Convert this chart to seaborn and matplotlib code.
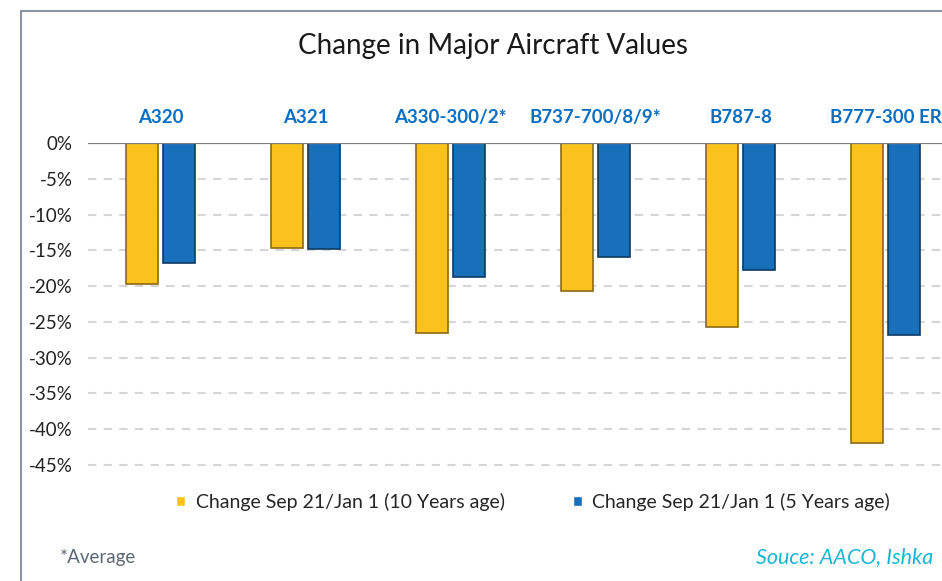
import pandas as pd
import matplotlib.pyplot as plt
import seaborn as sns
from matplotlib.lines import Line2D

aircraft = ['A320', 'A321', 'A330-300/2*', 'B737-700/8/9*', 'B787-8', 'B777-300 ER']
series = ['Change Sep 21/Jan 1 (10 Years age)', 'Change Sep 21/Jan 1 (5 Years age)']
change_10y = [-19.7, -14.7, -26.5, -20.7, -25.7, -41.9]
change_5y = [-16.8, -14.8, -18.7, -15.9, -17.7, -26.8]
yticks = [0, -5, -10, -15, -20, -25, -30, -35, -40, -45]

df = pd.DataFrame({
    'aircraft': aircraft * 2,
    'series': [series[0]] * 6 + [series[1]] * 6,
    'change': change_10y + change_5y,
})

sns.set_style('white')
plt.rcParams['font.family'] = ['Lato', 'DejaVu Sans']

fig = plt.figure(figsize=(9.42, 5.81), dpi=100)
ax = fig.add_axes([0.0934, 0.1934, 0.9236, 0.5605])

yellow = '#FBC21E'
blue = '#1770B9'
sns.barplot(data=df, x='aircraft', y='change', hue='series', palette=[yellow, blue],
            width=0.51, gap=0.14, saturation=1, ax=ax, errorbar=None, zorder=3)

# darker edges to hint at the bevelled bars
for cont, ec in zip(ax.containers, ['#8C6A12', '#0C3A63']):
    for bar in cont:
        bar.set_edgecolor(ec)
        bar.set_linewidth(1.2)

ax.set_ylim(-45.5, 0)
ax.set_yticks(yticks)
ax.set_yticklabels([f'{v}%' for v in yticks], fontsize=13.5, color='#222222')
ax.tick_params(axis='y', length=0, pad=11)
ax.xaxis.tick_top()
ax.tick_params(axis='x', length=0, pad=12)
for lab in ax.get_xticklabels():
    lab.set_color('#0A6FC0')
    lab.set_fontweight('bold')
    lab.set_fontsize(13.5)
ax.set_xlabel('')
ax.set_ylabel('')
ax.set_xlim(-0.5, 5.5)
for s in ax.spines.values():
    s.set_visible(False)

for v in yticks[1:]:
    ax.axhline(v, color='#D6D6D6', lw=1.5, ls=(0, (4, 3.5)), zorder=1)
ax.axhline(0, color='#7F7F7F', lw=1.6, zorder=4)

handles, labels = ax.get_legend_handles_labels()
ax.get_legend().remove()
fig.legend(handles, labels, loc='center', bbox_to_anchor=(0.566, 0.136), ncol=2,
           frameon=False, fontsize=14, handlelength=0.45, handleheight=0.45,
           handletextpad=0.55, columnspacing=3.5)

fig.text(0.523, 0.92, 'Change in Major Aircraft Values', ha='center', va='center',
         fontsize=20, color='#1a1a1a')
fig.text(0.064, 0.041, '*Average', ha='left', va='center', fontsize=13.5, color='#5B6775')
fig.text(0.991, 0.041, 'Souce: AACO, Ishka', ha='right', va='center', fontsize=15.5,
         color='#19B5D6', style='italic')

# frame lines at top and left
fig.add_artist(Line2D([0.0223, 0.0223], [0, 0.981], color='#8A95A0', lw=1.5))
fig.add_artist(Line2D([0.0223, 1.0], [0.981, 0.981], color='#8A95A0', lw=1.5))

fig.savefig('out.png', dpi=100)
